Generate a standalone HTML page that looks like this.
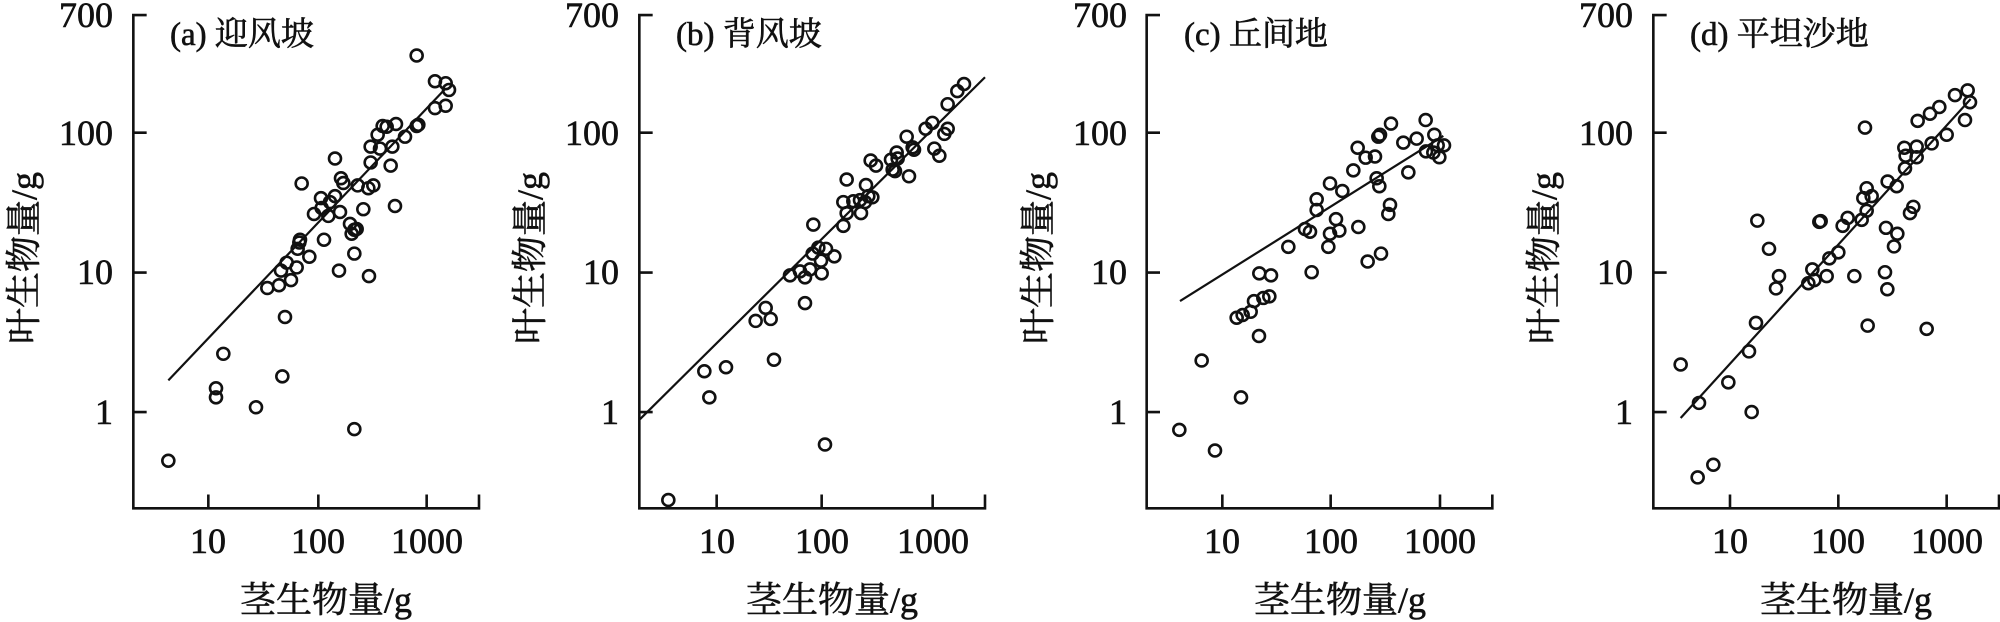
<!DOCTYPE html>
<html><head><meta charset="utf-8"><style>
html,body{margin:0;padding:0;background:#fff;}
svg{display:block;}
text{font-family:"Liberation Serif","Noto Serif CJK SC",serif;fill:#111;stroke:#111;stroke-width:0.6px;}
.t{font-size:36px;}
.ti{font-size:33px;}
</style></head><body>
<svg width="2000" height="622" viewBox="0 0 2000 622" xmlns="http://www.w3.org/2000/svg">
<defs>
<style>
.ax{stroke:#111;stroke-width:2.6;fill:none;vector-effect:non-scaling-stroke}
.ln{stroke:#111;stroke-width:2.2;fill:none;vector-effect:non-scaling-stroke}
ellipse{stroke:#111;stroke-width:2.6;fill:none;vector-effect:non-scaling-stroke}
</style>
</defs>

<!-- Panel a -->
<g transform="translate(0,0) scale(0.33333,0.3962)">
<path class="ax" d="M440,38H400V1283H1437V1248M400,335H440M400,688H440M400,1040H440M625,1283V1248M955,1283V1248M1280,1283V1248"/>
<line class="ln" x1="505" y1="960" x2="1335" y2="225"/>
<g>
<ellipse cx="505" cy="1163" rx="18" ry="15"/><ellipse cx="670" cy="893" rx="18" ry="15"/><ellipse cx="648" cy="980" rx="18" ry="15"/><ellipse cx="648" cy="1003" rx="18" ry="15"/><ellipse cx="768" cy="1028" rx="18" ry="15"/><ellipse cx="847" cy="950" rx="18" ry="15"/><ellipse cx="855" cy="800" rx="18" ry="15"/><ellipse cx="1063" cy="1083" rx="18" ry="15"/><ellipse cx="802" cy="727" rx="18" ry="15"/><ellipse cx="837" cy="720" rx="18" ry="15"/><ellipse cx="843" cy="683" rx="18" ry="15"/><ellipse cx="860" cy="663" rx="18" ry="15"/><ellipse cx="873" cy="707" rx="18" ry="15"/><ellipse cx="890" cy="675" rx="18" ry="15"/><ellipse cx="898" cy="612" rx="18" ry="15"/><ellipse cx="900" cy="605" rx="18" ry="15"/><ellipse cx="893" cy="628" rx="18" ry="15"/><ellipse cx="928" cy="648" rx="18" ry="15"/><ellipse cx="905" cy="463" rx="18" ry="15"/><ellipse cx="942" cy="540" rx="18" ry="15"/><ellipse cx="963" cy="500" rx="18" ry="15"/><ellipse cx="965" cy="525" rx="18" ry="15"/><ellipse cx="985" cy="545" rx="18" ry="15"/><ellipse cx="990" cy="510" rx="18" ry="15"/><ellipse cx="972" cy="605" rx="18" ry="15"/><ellipse cx="1005" cy="495" rx="18" ry="15"/><ellipse cx="1017" cy="683" rx="18" ry="15"/><ellipse cx="1020" cy="535" rx="18" ry="15"/><ellipse cx="1023" cy="450" rx="18" ry="15"/><ellipse cx="1030" cy="462" rx="18" ry="15"/><ellipse cx="1050" cy="565" rx="18" ry="15"/><ellipse cx="1055" cy="590" rx="18" ry="15"/><ellipse cx="1063" cy="640" rx="18" ry="15"/><ellipse cx="1070" cy="578" rx="18" ry="15"/><ellipse cx="1073" cy="468" rx="18" ry="15"/><ellipse cx="1090" cy="528" rx="18" ry="15"/><ellipse cx="1107" cy="697" rx="18" ry="15"/><ellipse cx="1105" cy="475" rx="18" ry="15"/><ellipse cx="1120" cy="468" rx="18" ry="15"/><ellipse cx="1112" cy="410" rx="18" ry="15"/><ellipse cx="1112" cy="370" rx="18" ry="15"/><ellipse cx="1133" cy="340" rx="18" ry="15"/><ellipse cx="1140" cy="375" rx="18" ry="15"/><ellipse cx="1148" cy="318" rx="18" ry="15"/><ellipse cx="1160" cy="320" rx="18" ry="15"/><ellipse cx="1172" cy="418" rx="18" ry="15"/><ellipse cx="1177" cy="370" rx="18" ry="15"/><ellipse cx="1185" cy="520" rx="18" ry="15"/><ellipse cx="1188" cy="313" rx="18" ry="15"/><ellipse cx="1215" cy="345" rx="18" ry="15"/><ellipse cx="1250" cy="318" rx="18" ry="15"/><ellipse cx="1255" cy="315" rx="18" ry="15"/><ellipse cx="1250" cy="140" rx="18" ry="15"/><ellipse cx="1305" cy="205" rx="18" ry="15"/><ellipse cx="1305" cy="273" rx="18" ry="15"/><ellipse cx="1337" cy="210" rx="18" ry="15"/><ellipse cx="1347" cy="227" rx="18" ry="15"/><ellipse cx="1337" cy="267" rx="18" ry="15"/><ellipse cx="1005" cy="400" rx="18" ry="15"/><ellipse cx="1063" cy="580" rx="18" ry="15"/>
</g></g>

<!-- Panel b -->
<g transform="translate(500,0) scale(0.33333,0.3962)">
<path class="ax" d="M458,38H418V1283H1455V1248M418,335H458M418,688H458M418,1040H458M650,1283V1248M965,1283V1248M1298,1283V1248"/>
<line class="ln" x1="420" y1="1058" x2="1455" y2="195"/>
<g>
<ellipse cx="505" cy="1262" rx="18" ry="15"/><ellipse cx="613" cy="937" rx="18" ry="15"/><ellipse cx="628" cy="1003" rx="18" ry="15"/><ellipse cx="678" cy="927" rx="18" ry="15"/><ellipse cx="822" cy="908" rx="18" ry="15"/><ellipse cx="975" cy="1122" rx="18" ry="15"/><ellipse cx="767" cy="810" rx="18" ry="15"/><ellipse cx="797" cy="777" rx="18" ry="15"/><ellipse cx="812" cy="805" rx="18" ry="15"/><ellipse cx="915" cy="765" rx="18" ry="15"/><ellipse cx="870" cy="695" rx="18" ry="15"/><ellipse cx="900" cy="685" rx="18" ry="15"/><ellipse cx="915" cy="700" rx="18" ry="15"/><ellipse cx="930" cy="680" rx="18" ry="15"/><ellipse cx="938" cy="640" rx="18" ry="15"/><ellipse cx="955" cy="625" rx="18" ry="15"/><ellipse cx="965" cy="690" rx="18" ry="15"/><ellipse cx="963" cy="658" rx="18" ry="15"/><ellipse cx="978" cy="628" rx="18" ry="15"/><ellipse cx="1003" cy="647" rx="18" ry="15"/><ellipse cx="940" cy="567" rx="18" ry="15"/><ellipse cx="1030" cy="570" rx="18" ry="15"/><ellipse cx="1040" cy="538" rx="18" ry="15"/><ellipse cx="1030" cy="510" rx="18" ry="15"/><ellipse cx="1040" cy="453" rx="18" ry="15"/><ellipse cx="1060" cy="508" rx="18" ry="15"/><ellipse cx="1080" cy="505" rx="18" ry="15"/><ellipse cx="1083" cy="538" rx="18" ry="15"/><ellipse cx="1095" cy="510" rx="18" ry="15"/><ellipse cx="1098" cy="467" rx="18" ry="15"/><ellipse cx="1105" cy="495" rx="18" ry="15"/><ellipse cx="1117" cy="498" rx="18" ry="15"/><ellipse cx="1112" cy="405" rx="18" ry="15"/><ellipse cx="1128" cy="418" rx="18" ry="15"/><ellipse cx="1173" cy="403" rx="18" ry="15"/><ellipse cx="1178" cy="428" rx="18" ry="15"/><ellipse cx="1190" cy="385" rx="18" ry="15"/><ellipse cx="1185" cy="432" rx="18" ry="15"/><ellipse cx="1193" cy="400" rx="18" ry="15"/><ellipse cx="1220" cy="345" rx="18" ry="15"/><ellipse cx="1227" cy="445" rx="18" ry="15"/><ellipse cx="1238" cy="372" rx="18" ry="15"/><ellipse cx="1242" cy="378" rx="18" ry="15"/><ellipse cx="1277" cy="325" rx="18" ry="15"/><ellipse cx="1297" cy="310" rx="18" ry="15"/><ellipse cx="1303" cy="375" rx="18" ry="15"/><ellipse cx="1318" cy="393" rx="18" ry="15"/><ellipse cx="1333" cy="338" rx="18" ry="15"/><ellipse cx="1343" cy="325" rx="18" ry="15"/><ellipse cx="1343" cy="263" rx="18" ry="15"/><ellipse cx="1372" cy="230" rx="18" ry="15"/><ellipse cx="1392" cy="212" rx="18" ry="15"/>
</g></g>

<!-- Panel c -->
<g transform="translate(1000,0) scale(0.33333,0.3962)">
<path class="ax" d="M480,38H440V1283H1477V1248M440,335H480M440,688H480M440,1040H480M667,1283V1248M992,1283V1248M1320,1283V1248"/>
<line class="ln" x1="540" y1="760" x2="1330" y2="343"/>
<g>
<ellipse cx="538" cy="1085" rx="18" ry="15"/><ellipse cx="645" cy="1137" rx="18" ry="15"/><ellipse cx="605" cy="910" rx="18" ry="15"/><ellipse cx="723" cy="1003" rx="18" ry="15"/><ellipse cx="710" cy="802" rx="18" ry="15"/><ellipse cx="728" cy="795" rx="18" ry="15"/><ellipse cx="752" cy="787" rx="18" ry="15"/><ellipse cx="762" cy="760" rx="18" ry="15"/><ellipse cx="777" cy="848" rx="18" ry="15"/><ellipse cx="778" cy="690" rx="18" ry="15"/><ellipse cx="790" cy="752" rx="18" ry="15"/><ellipse cx="808" cy="748" rx="18" ry="15"/><ellipse cx="813" cy="695" rx="18" ry="15"/><ellipse cx="865" cy="623" rx="18" ry="15"/><ellipse cx="915" cy="578" rx="18" ry="15"/><ellipse cx="930" cy="585" rx="18" ry="15"/><ellipse cx="935" cy="687" rx="18" ry="15"/><ellipse cx="950" cy="503" rx="18" ry="15"/><ellipse cx="950" cy="530" rx="18" ry="15"/><ellipse cx="985" cy="623" rx="18" ry="15"/><ellipse cx="990" cy="590" rx="18" ry="15"/><ellipse cx="990" cy="463" rx="18" ry="15"/><ellipse cx="1008" cy="553" rx="18" ry="15"/><ellipse cx="1018" cy="582" rx="18" ry="15"/><ellipse cx="1027" cy="482" rx="18" ry="15"/><ellipse cx="1060" cy="430" rx="18" ry="15"/><ellipse cx="1075" cy="573" rx="18" ry="15"/><ellipse cx="1073" cy="373" rx="18" ry="15"/><ellipse cx="1097" cy="398" rx="18" ry="15"/><ellipse cx="1103" cy="660" rx="18" ry="15"/><ellipse cx="1125" cy="395" rx="18" ry="15"/><ellipse cx="1130" cy="450" rx="18" ry="15"/><ellipse cx="1138" cy="470" rx="18" ry="15"/><ellipse cx="1135" cy="345" rx="18" ry="15"/><ellipse cx="1140" cy="340" rx="18" ry="15"/><ellipse cx="1143" cy="640" rx="18" ry="15"/><ellipse cx="1165" cy="540" rx="18" ry="15"/><ellipse cx="1170" cy="517" rx="18" ry="15"/><ellipse cx="1173" cy="312" rx="18" ry="15"/><ellipse cx="1210" cy="360" rx="18" ry="15"/><ellipse cx="1225" cy="435" rx="18" ry="15"/><ellipse cx="1250" cy="350" rx="18" ry="15"/><ellipse cx="1277" cy="303" rx="18" ry="15"/><ellipse cx="1278" cy="382" rx="18" ry="15"/><ellipse cx="1300" cy="385" rx="18" ry="15"/><ellipse cx="1303" cy="340" rx="18" ry="15"/><ellipse cx="1313" cy="367" rx="18" ry="15"/><ellipse cx="1318" cy="397" rx="18" ry="15"/><ellipse cx="1332" cy="367" rx="18" ry="15"/>
</g></g>

<!-- Panel d -->
<g transform="translate(1500,0) scale(0.33333,0.3962)">
<path class="ax" d="M500,38H460V1283H1497V1248M460,335H500M460,688H500M460,1040H500M690,1283V1248M1015,1283V1248M1340,1283V1248"/>
<line class="ln" x1="542" y1="1055" x2="1412" y2="250"/>
<g>
<ellipse cx="542" cy="920" rx="18" ry="15"/><ellipse cx="593" cy="1205" rx="18" ry="15"/><ellipse cx="640" cy="1173" rx="18" ry="15"/><ellipse cx="597" cy="1017" rx="18" ry="15"/><ellipse cx="685" cy="965" rx="18" ry="15"/><ellipse cx="747" cy="887" rx="18" ry="15"/><ellipse cx="755" cy="1040" rx="18" ry="15"/><ellipse cx="768" cy="815" rx="18" ry="15"/><ellipse cx="772" cy="557" rx="18" ry="15"/><ellipse cx="807" cy="628" rx="18" ry="15"/><ellipse cx="828" cy="728" rx="18" ry="15"/><ellipse cx="837" cy="697" rx="18" ry="15"/><ellipse cx="925" cy="715" rx="18" ry="15"/><ellipse cx="937" cy="680" rx="18" ry="15"/><ellipse cx="943" cy="707" rx="18" ry="15"/><ellipse cx="962" cy="558" rx="18" ry="15"/><ellipse cx="958" cy="560" rx="18" ry="15"/><ellipse cx="980" cy="697" rx="18" ry="15"/><ellipse cx="988" cy="652" rx="18" ry="15"/><ellipse cx="1015" cy="637" rx="18" ry="15"/><ellipse cx="1028" cy="570" rx="18" ry="15"/><ellipse cx="1043" cy="550" rx="18" ry="15"/><ellipse cx="1063" cy="697" rx="18" ry="15"/><ellipse cx="1085" cy="555" rx="18" ry="15"/><ellipse cx="1095" cy="322" rx="18" ry="15"/><ellipse cx="1090" cy="500" rx="18" ry="15"/><ellipse cx="1100" cy="475" rx="18" ry="15"/><ellipse cx="1100" cy="532" rx="18" ry="15"/><ellipse cx="1103" cy="822" rx="18" ry="15"/><ellipse cx="1115" cy="495" rx="18" ry="15"/><ellipse cx="1155" cy="687" rx="18" ry="15"/><ellipse cx="1162" cy="730" rx="18" ry="15"/><ellipse cx="1158" cy="575" rx="18" ry="15"/><ellipse cx="1163" cy="458" rx="18" ry="15"/><ellipse cx="1190" cy="470" rx="18" ry="15"/><ellipse cx="1192" cy="590" rx="18" ry="15"/><ellipse cx="1182" cy="622" rx="18" ry="15"/><ellipse cx="1215" cy="425" rx="18" ry="15"/><ellipse cx="1217" cy="393" rx="18" ry="15"/><ellipse cx="1213" cy="373" rx="18" ry="15"/><ellipse cx="1230" cy="538" rx="18" ry="15"/><ellipse cx="1240" cy="522" rx="18" ry="15"/><ellipse cx="1250" cy="397" rx="18" ry="15"/><ellipse cx="1250" cy="370" rx="18" ry="15"/><ellipse cx="1253" cy="305" rx="18" ry="15"/><ellipse cx="1280" cy="830" rx="18" ry="15"/><ellipse cx="1290" cy="287" rx="18" ry="15"/><ellipse cx="1295" cy="362" rx="18" ry="15"/><ellipse cx="1318" cy="270" rx="18" ry="15"/><ellipse cx="1340" cy="340" rx="18" ry="15"/><ellipse cx="1365" cy="240" rx="18" ry="15"/><ellipse cx="1395" cy="303" rx="18" ry="15"/><ellipse cx="1403" cy="228" rx="18" ry="15"/><ellipse cx="1410" cy="258" rx="18" ry="15"/>
</g></g>

<g class="t" text-anchor="end">
<text x="113" y="27">700</text><text x="113" y="145">100</text><text x="113" y="284">10</text><text x="113" y="424">1</text>
<text x="619" y="27">700</text><text x="619" y="145">100</text><text x="619" y="284">10</text><text x="619" y="424">1</text>
<text x="1127" y="27">700</text><text x="1127" y="145">100</text><text x="1127" y="284">10</text><text x="1127" y="424">1</text>
<text x="1633" y="27">700</text><text x="1633" y="145">100</text><text x="1633" y="284">10</text><text x="1633" y="424">1</text>
</g>
<g class="t" text-anchor="middle">
<text x="208" y="553">10</text><text x="318" y="553">100</text><text x="427" y="553">1000</text>
<text x="717" y="553">10</text><text x="822" y="553">100</text><text x="933" y="553">1000</text>
<text x="1222" y="553">10</text><text x="1331" y="553">100</text><text x="1440" y="553">1000</text>
<text x="1730" y="553">10</text><text x="1838" y="553">100</text><text x="1947" y="553">1000</text>
</g>
<g class="t" text-anchor="middle">
<text x="326" y="612">茎生物量/g</text>
<text x="832" y="612">茎生物量/g</text>
<text x="1340" y="612">茎生物量/g</text>
<text x="1846" y="612">茎生物量/g</text>
<text transform="translate(36,258) rotate(-90)">叶生物量/g</text>
<text transform="translate(542,258) rotate(-90)">叶生物量/g</text>
<text transform="translate(1050,258) rotate(-90)">叶生物量/g</text>
<text transform="translate(1556,258) rotate(-90)">叶生物量/g</text>
</g>
<g class="ti">
<text x="170" y="45">(a) 迎风坡</text>
<text x="676" y="45">(b) 背风坡</text>
<text x="1184" y="45">(c) 丘间地</text>
<text x="1690" y="45">(d) 平坦沙地</text>
</g>
</svg>
</body></html>
